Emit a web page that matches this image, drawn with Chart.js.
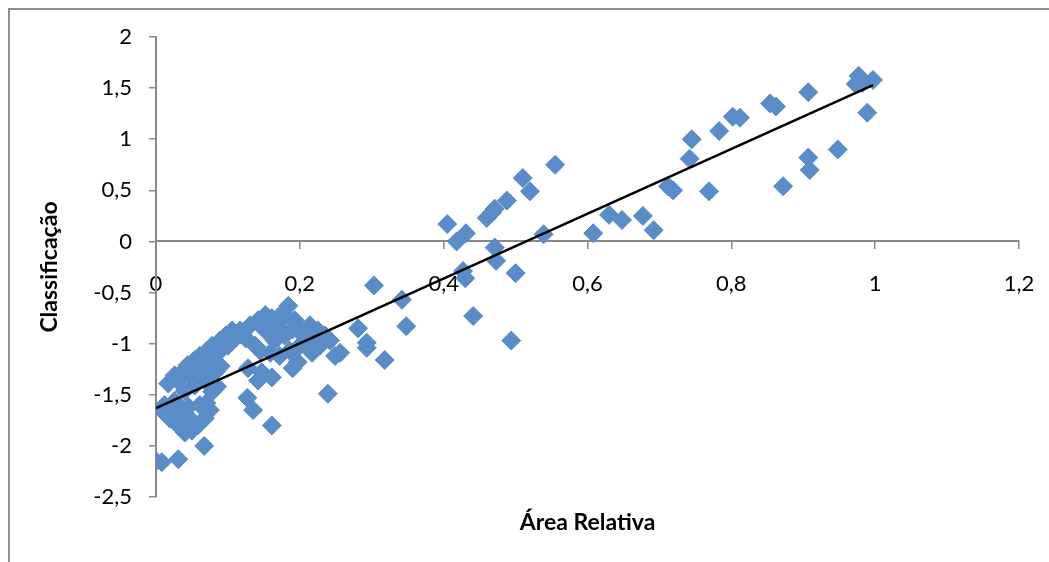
<!DOCTYPE html>
<html>
<head>
<meta charset="utf-8">
<script src="https://cdn.jsdelivr.net/npm/chart.js@4.4.1/dist/chart.umd.min.js"></script>
<style>
html, body { margin: 0; padding: 0; background: #fff; overflow: hidden; }
#frame { position: absolute; left: 8px; top: 8px; width: 1100px; height: 600px;
         border-left: 2px solid #8e8e8e; border-top: 2px solid #8e8e8e; }
#wrap { position: absolute; left: 0; top: 0; width: 1049px; height: 562px; }
</style>
</head>
<body>
<div id="frame"></div>
<div id="wrap"><canvas id="chart" width="1049" height="562"></canvas></div>
<script>
// values
const areaRelativa = [
  // right group
  0.608, 0.630, 0.648, 0.677, 0.692, 0.712, 0.719, 0.742, 0.745, 0.769, 0.783, 0.802, 0.812,
  0.854, 0.862, 0.872, 0.907, 0.907, 0.909, 0.948, 0.977, 0.973, 0.997, 0.989, 0.982,
  // middle
  0.555, 0.510, 0.520, 0.488, 0.471, 0.467, 0.460, 0.405, 0.431, 0.418, 0.539, 0.471, 0.473,
  0.500, 0.427, 0.430, 0.441, 0.494, 0.303, 0.342, 0.348, 0.281, 0.293, 0.293, 0.318, 0.239,
  // left, isolated
  0.000, 0.008, 0.031, 0.067, 0.161, 0.127, 0.135, 0.161, 0.142, 0.128,
  // left, upper band
  0.017, 0.026, 0.036, 0.044, 0.054, 0.061, 0.071, 0.078, 0.089, 0.097, 0.106, 0.047, 0.061,
  0.075, 0.086, 0.100, 0.110, 0.068, 0.082, 0.054, 0.040,
  0.030, 0.045, 0.058, 0.066, 0.080, 0.092, 0.104, 0.118, 0.125, 0.072, 0.090,
  // left, lower blob
  0.008, 0.019, 0.031, 0.040, 0.050, 0.058, 0.068, 0.075, 0.061, 0.026, 0.022,
  0.012, 0.035, 0.050, 0.045, 0.070, 0.078, 0.085,
  // cluster around 0.2
  0.117, 0.131, 0.142, 0.152, 0.161, 0.172, 0.184, 0.193, 0.200, 0.214, 0.225, 0.235, 0.242,
  0.256, 0.249, 0.228, 0.214, 0.200, 0.186, 0.172, 0.159, 0.145, 0.138, 0.147, 0.190, 0.197,
  0.217, 0.152, 0.179, 0.165,
  0.157, 0.168, 0.176, 0.190, 0.205, 0.220
];
const classificacao = [
  0.08, 0.26, 0.21, 0.25, 0.11, 0.54, 0.50, 0.81, 1.00, 0.49, 1.08, 1.22, 1.21,
  1.35, 1.32, 0.54, 1.46, 0.82, 0.70, 0.90, 1.62, 1.54, 1.58, 1.26, 1.55,
  0.75, 0.62, 0.49, 0.40, 0.32, 0.28, 0.23, 0.17, 0.08, 0.00, 0.07, -0.06, -0.19,
  -0.31, -0.29, -0.36, -0.73, -0.97, -0.43, -0.57, -0.83, -0.85, -0.99, -1.04, -1.16, -1.49,
  -2.15, -2.16, -2.13, -2.00, -1.80, -1.53, -1.65, -1.33, -1.36, -1.24,
  -1.39, -1.31, -1.28, -1.21, -1.16, -1.12, -1.07, -1.02, -0.97, -0.92, -0.87, -1.31, -1.24,
  -1.18, -1.09, -1.02, -0.95, -1.36, -1.28, -1.41, -1.46,
  -1.36, -1.27, -1.22, -1.17, -1.12, -1.05, -0.98, -0.91, -0.95, -1.30, -1.22,
  -1.65, -1.73, -1.80, -1.87, -1.85, -1.80, -1.73, -1.65, -1.60, -1.56, -1.62,
  -1.60, -1.70, -1.75, -1.62, -1.58, -1.47, -1.42,
  -0.87, -0.82, -0.77, -0.72, -0.75, -0.79, -0.63, -0.77, -0.85, -0.82, -0.87, -0.92, -0.97,
  -1.09, -1.12, -1.02, -0.97, -1.02, -1.07, -1.12, -1.09, -1.07, -1.02, -1.28, -1.24, -1.18,
  -1.09, -0.87, -0.92, -0.97,
  -0.80, -0.86, -0.70, -0.86, -0.92, -0.95
];
// linear trend line, ends as drawn
const trendX = [0, 0.997];
const trendY = [-1.63, 1.53];

const family = 'Lato, "Open Sans", sans-serif';
const axisGray = '#898989';
const markerBlue = '#5A8CC8';

const fmt = v => String(Math.round(v * 10) / 10).replace('.', ',');

const points = areaRelativa.map((x, i) => ({ x: x, y: classificacao[i] }));
const trend = trendX.map((x, i) => ({ x: x, y: trendY[i] }));

// x title sits at the bottom, the x axis itself crosses at y = 0
const xTitle = {
  id: 'xTitle',
  afterDraw(chart) {
    const { ctx, chartArea } = chart;
    ctx.save();
    ctx.font = 'bold 23px ' + family;
    ctx.fillStyle = '#000';
    ctx.textAlign = 'center';
    ctx.textBaseline = 'middle';
    ctx.fillText('Área Relativa', (chartArea.left + chartArea.right) / 2, chartArea.bottom + 26);
    ctx.restore();
  }
};

const ctx = document.getElementById('chart').getContext('2d');

new Chart(ctx, {
  type: 'scatter',
  data: {
    datasets: [
      {
        type: 'line',
        data: trend,
        borderColor: '#000',
        borderWidth: 2.5,
        pointRadius: 0,
        fill: false,
        order: 0
      },
      {
        data: points,
        backgroundColor: markerBlue,
        borderColor: markerBlue,
        borderWidth: 1,
        pointStyle: 'rectRot',
        pointRadius: 9.5,
        pointHoverRadius: 9.5,
        order: 1
      }
    ]
  },
  options: {
    responsive: false,
    animation: false,
    events: [],
    layout: { padding: { top: 37, right: 30, bottom: 65, left: 0 } },
    plugins: {
      legend: { display: false },
      tooltip: { enabled: false }
    },
    scales: {
      x: {
        type: 'linear',
        min: 0,
        max: 1.2,
        position: { y: 0 },
        afterFit: s => { s.paddingRight = 0; s.paddingLeft = 0; },
        ticks: { stepSize: 0.2, callback: fmt, color: '#000', font: { family: family, size: 22 }, padding: 22, maxRotation: 0 },
        grid: { display: true, drawOnChartArea: false, drawTicks: true, tickLength: 7, color: axisGray, lineWidth: 1.5 },
        border: { display: true, color: axisGray, width: 2 }
      },
      y: {
        min: -2.5,
        max: 2,
        position: 'left',
        afterFit: s => { s.width = 156; },
        ticks: { stepSize: 0.5, callback: fmt, color: '#000', font: { family: family, size: 22 }, padding: 17 },
        grid: { display: true, drawOnChartArea: false, drawTicks: true, tickLength: 7, color: axisGray, lineWidth: 1.5 },
        border: { display: true, color: axisGray, width: 2 },
        title: {
          display: true,
          text: 'Classificação',
          color: '#000',
          font: { family: family, size: 23, weight: 'bold' },
          padding: { top: 36, bottom: 0 }
        }
      }
    }
  },
  plugins: [xTitle]
});
</script>
</body>
</html>
